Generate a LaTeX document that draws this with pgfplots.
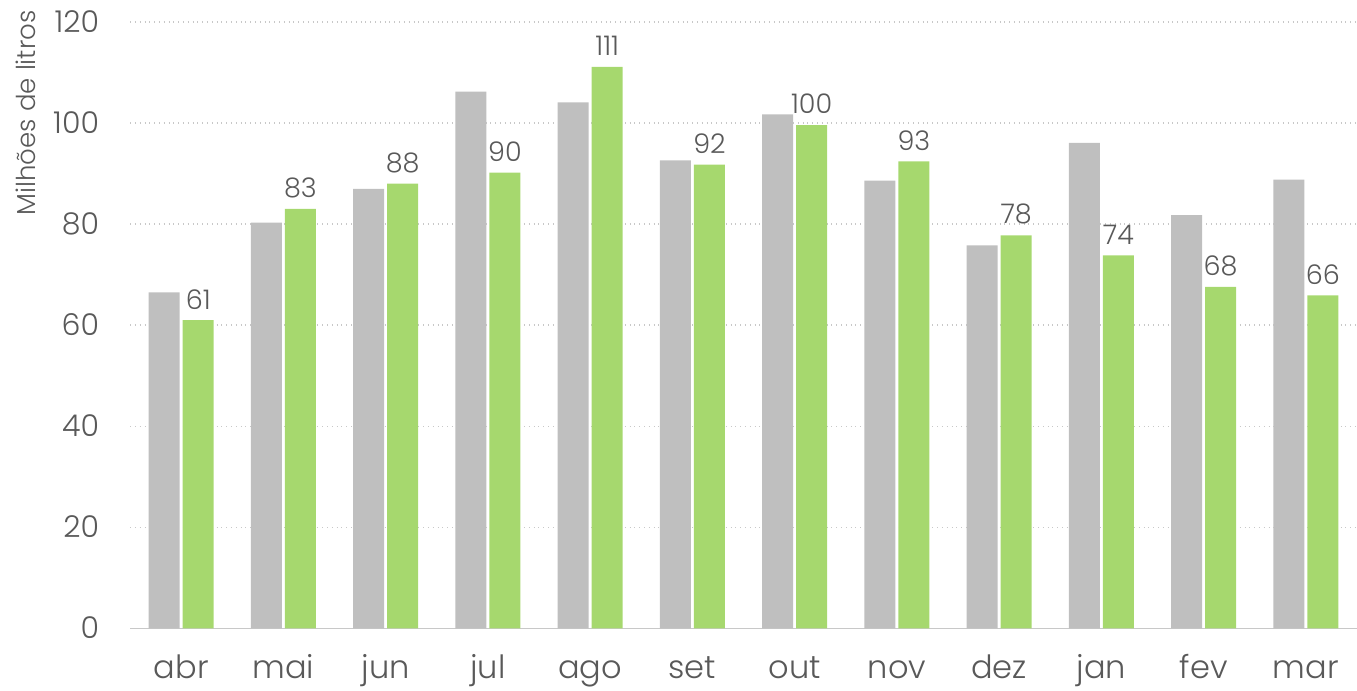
\documentclass[border=0pt]{standalone}
\usepackage{fontspec}
\setmainfont{Poppins}[UprightFont={* Light}]
\usepackage{pgfplots}
\pgfplotsset{compat=1.18}
\definecolor{barGray}{RGB}{191,191,191}
\definecolor{barGreen}{RGB}{166,216,110}
\definecolor{txt}{RGB}{89,89,89}
\definecolor{gridc}{RGB}{200,200,200}
\begin{document}
\begin{tikzpicture}
\begin{axis}[
    name=main,
    scale only axis,
    width=613pt, height=303pt,
    xmin=-0.5, xmax=11.5,
    ymin=0, ymax=120,
    ytick={0,20,...,120},
    xtick={0,...,11},
    xticklabels={abr,mai,jun,jul,ago,set,out,nov,dez,jan,fev,mar},
    axis x line*=bottom,
    axis y line*=left,
    axis line style={draw=none},
    ymajorgrids,
    grid style={gridc, dotted, line width=0.8pt},
    major tick length=0pt,
    tick label style={text=txt},
    xticklabel style={font=\fontsize{16}{18}\selectfont, anchor=base, yshift=-25pt},
    yticklabel style={font=\fontsize{15}{17}\selectfont, anchor=base east, yshift=-5pt},
    yticklabel shift=12pt,
    /pgf/number format/assume math mode=true,
    ybar, bar width=15.5pt,
    clip=false,
]
\draw[gridc, line width=0.8pt] (axis cs:-0.5,0) -- (axis cs:11.5,0);
\addplot[fill=barGray, draw=none, bar shift=-8.5pt] coordinates {
    (0,66.5) (1,80.3) (2,87.0) (3,106.2) (4,104.1) (5,92.6)
    (6,101.7) (7,88.6) (8,75.8) (9,96.1) (10,81.8) (11,88.8)
};
\addplot[fill=barGreen, draw=none, bar shift=8.5pt,
    nodes near coords,
    every node near coord/.append style={font=\fontsize{13.5}{16}\selectfont, text=txt, yshift=2pt},
    point meta=explicit symbolic] coordinates {
    (0,61.0) [61] (1,83.0) [83] (2,88.0) [88] (3,90.2) [90] (4,111.1) [111] (5,91.8) [92]
    (6,99.6) [100] (7,92.4) [93] (8,77.8) [78] (9,73.8) [74] (10,67.6) [68] (11,65.9) [66]
};
\end{axis}
\node[rotate=90, anchor=east, text=txt, font=\fontsize{13}{15}\selectfont, inner sep=0pt]
    at ([xshift=-52pt,yshift=6pt]main.north west) {Milhões de litros};
\pgfresetboundingbox
\path ([xshift=-65pt,yshift=-31pt]main.south west) rectangle ([yshift=11pt]main.north east);
\end{tikzpicture}
\end{document}
